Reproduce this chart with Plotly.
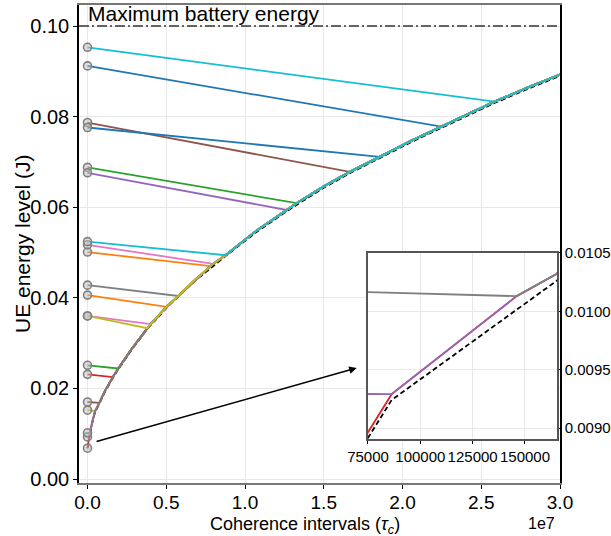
import plotly.graph_objects as go

# ---------------- data ----------------
MAX_BATTERY = 0.10

# frontier curve (coherence intervals, energy)
curve_x = [86300, 146000, 165000, 300000, 480000, 750000, 1100000, 1600000, 1950000, 2800000,
           3790000, 4010000, 5020000, 5760000, 6700000, 7810000, 7980000, 8760000, 10600000,
           12630000, 13270000, 15000000, 16650000, 18550000, 20500000, 22460000, 25840000,
           28000000, 30000000]
curve_y = [0.00929, 0.01013, 0.01032, 0.0126, 0.0150, 0.0168, 0.0194, 0.0225, 0.0244, 0.0287,
           0.0333, 0.0342, 0.0380, 0.0404, 0.0436, 0.0470, 0.0475, 0.0494, 0.0545,
           0.0594, 0.0609, 0.0646, 0.0678, 0.0711, 0.0746, 0.0778, 0.0833,
           0.0865, 0.0893]

# lower bound (dashed) curve
bound_x = [0, 86300, 165000, 300000, 480000, 750000, 1100000, 1600000, 1950000, 2800000,
           3790000, 5020000, 6700000, 8760000, 10600000, 12630000, 15000000, 16650000,
           18550000, 20500000, 22460000, 25840000, 28000000, 30000000]
bound_y = [0.00676, 0.00924, 0.01026, 0.0124, 0.0148, 0.0166, 0.0192, 0.0223, 0.0242, 0.0285,
           0.0331, 0.0378, 0.0434, 0.0492, 0.0542, 0.0591, 0.0643, 0.0675,
           0.0708, 0.0743, 0.0775, 0.0830, 0.0862, 0.0890]

# UE initial energies (drawing order) and where each joins the frontier
start_energy = [0.0912, 0.0501, 0.0688, 0.0068, 0.0676, 0.0787, 0.0517, 0.0428, 0.0152, 0.0953,
                0.0776, 0.0406, 0.0251, 0.0231, 0.0093, 0.0170, 0.0360, 0.0102, 0.0360, 0.0524]
join_x = [22460000, 7810000, 13270000, 86300, 12630000, 16650000, 7980000, 5760000, 480000, 25840000,
          18550000, 5020000, 1950000, 1600000, 86300, 750000, 4010000, 146000, 3790000, 8760000]

colors = ["#1f77b4", "#ff7f0e", "#2ca02c", "#d62728", "#9467bd",
          "#8c564b", "#e377c2", "#7f7f7f", "#bcbd22", "#17becf"]

x_tickvals = [0, 5e6, 1e7, 1.5e7, 2e7, 2.5e7, 3e7]
x_ticktext = ["0.0", "0.5", "1.0", "1.5", "2.0", "2.5", "3.0"]
y_tickvals = [0.0, 0.02, 0.04, 0.06, 0.08, 0.10]
y_ticktext = ["0.00", "0.02", "0.04", "0.06", "0.08", "0.10"]
ins_x_tickvals = [75000, 100000, 125000, 150000]
ins_x_ticktext = ["75000", "100000", "125000", "150000"]
ins_y_tickvals = [0.0090, 0.0095, 0.0100, 0.0105]
ins_y_ticktext = ["0.0090", "0.0095", "0.0100", "0.0105"]

FONT = "Liberation Sans, Arial, sans-serif"

fig = go.Figure()

# dashed lower bound on both axes
for xa, ya in (("x", "y"), ("x2", "y2")):
    fig.add_trace(go.Scatter(x=bound_x, y=bound_y, mode="lines", xaxis=xa, yaxis=ya,
                             line=dict(color="black", width=1.8, dash="5px,3px"),
                             showlegend=False, hoverinfo="skip"))

# UE trajectories
for i, (e0, jx) in enumerate(zip(start_energy, join_x)):
    k = curve_x.index(jx)
    xs = [0] + curve_x[k:]
    ys = [e0] + curve_y[k:]
    col = colors[i % len(colors)]
    for xa, ya in (("x", "y"), ("x2", "y2")):
        fig.add_trace(go.Scatter(x=xs, y=ys, mode="lines", xaxis=xa, yaxis=ya,
                                 line=dict(color=col, width=1.8),
                                 showlegend=False, hoverinfo="skip"))

# initial energy markers
fig.add_trace(go.Scatter(x=[0] * len(start_energy), y=start_energy, mode="markers",
                         marker=dict(size=8, color="rgba(190,190,190,0.5)",
                                     line=dict(color="#808080", width=1.6)),
                         showlegend=False, hoverinfo="skip"))

# maximum battery line
fig.add_hline(y=MAX_BATTERY, line=dict(color="#333333", width=1.5, dash="10px,3px,2px,3px"))
fig.add_annotation(x=0, y=MAX_BATTERY, xref="x", yref="y", text="Maximum battery energy",
                   showarrow=False, xanchor="left", yanchor="bottom", xshift=-2, yshift=-1,
                   font=dict(family=FONT, size=21, color="black"))

# arrow to inset
fig.add_annotation(x=1.709e7, y=0.0245, ax=4.8e5, ay=0.00817, xref="x", yref="y",
                   axref="x", ayref="y", text="", showarrow=True, arrowhead=2,
                   arrowsize=1, arrowwidth=1.5, arrowcolor="black")

# axis titles and offset label
fig.add_annotation(x=0.47, y=-0.0605, xref="paper", yref="paper",
                   text="Coherence intervals (<i>τ<sub>c</sub></i>)", showarrow=False,
                   xanchor="center", yanchor="top",
                   font=dict(family=FONT, size=18, color="black"))
fig.add_annotation(x=-0.1185, y=0.5, xref="paper", yref="paper",
                   text="UE energy level (J)", showarrow=False, textangle=-90,
                   xanchor="center", yanchor="middle",
                   font=dict(family=FONT, size=21, color="black"))
fig.add_annotation(x=0.9605, y=-0.062, xref="paper", yref="paper", text="1e7",
                   showarrow=False, xanchor="center", yanchor="top",
                   font=dict(family=FONT, size=16, color="black"))

grid = "#e8e8e8"
fig.update_layout(
    width=611, height=536,
    margin=dict(l=79, r=51, t=5, b=53, autoexpand=False),
    paper_bgcolor="white", plot_bgcolor="white",
    font=dict(family=FONT, color="black"),
    xaxis=dict(range=[-5.4e5, 3.0e7], domain=[0, 1], tickvals=x_tickvals, ticktext=x_ticktext,
               automargin=False, ticklabelstandoff=-3,
               showgrid=True, gridcolor=grid, gridwidth=1, zeroline=False,
               showline=True, linecolor="#777777", linewidth=1.5, mirror=True,
               ticks="outside", ticklen=4, tickcolor="black", tickfont=dict(size=19)),
    yaxis=dict(range=[-0.00088, 0.10464], domain=[0, 1], tickvals=y_tickvals, ticktext=y_ticktext,
               automargin=False,
               showgrid=True, gridcolor=grid, gridwidth=1, zeroline=False,
               showline=True, linecolor="black", linewidth=1.5, mirror=True,
               ticks="outside", ticklen=4, tickcolor="black", tickfont=dict(size=20)),
    xaxis2=dict(range=[75000, 165300], domain=[0.6008, 0.9938], anchor="y2",
                tickvals=ins_x_tickvals, ticktext=ins_x_ticktext, automargin=False,
                showgrid=True, gridcolor=grid, zeroline=False,
                showline=True, linecolor="#555555", linewidth=1.5, mirror=True,
                ticks="outside", ticklen=3, tickcolor="black", tickfont=dict(size=15)),
    yaxis2=dict(range=[0.008906, 0.0105], domain=[0.0921, 0.4812], anchor="x2", side="right",
                tickvals=ins_y_tickvals, ticktext=ins_y_ticktext, automargin=False,
                showgrid=True, gridcolor=grid, zeroline=False,
                showline=True, linecolor="#555555", linewidth=1.5, mirror=True,
                ticks="outside", ticklen=3, tickcolor="black", tickfont=dict(size=15)),
)

fig.write_html("out.html")
